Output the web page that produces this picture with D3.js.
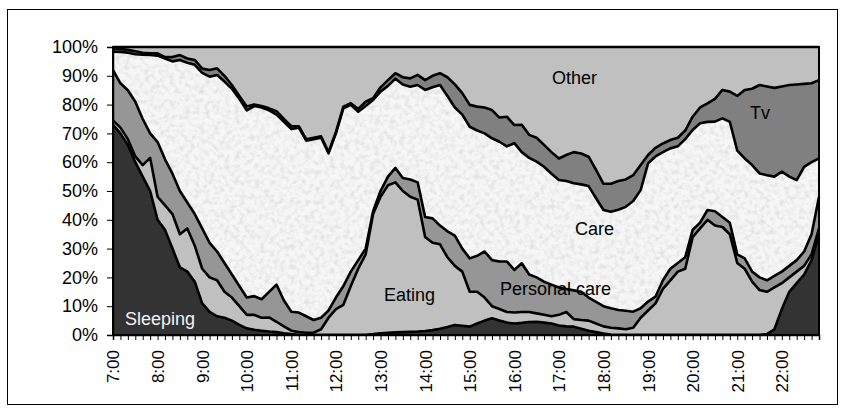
<!DOCTYPE html>
<html>
<head>
<meta charset="utf-8">
<script src="https://cdnjs.cloudflare.com/ajax/libs/d3/7.8.5/d3.min.js"></script>
<style>
  body { margin: 0; background: #fff; }
  svg { display: block; font-family: "Liberation Sans", Arial, sans-serif; }
</style>
</head>
<body>
<svg id="chart" width="846" height="413"></svg>
<script>
// 10-minute slots from 7:00 to 22:50
const times = d3.range(7 * 60, 23 * 60, 10).map(m => Math.floor(m / 60) + ":" + String(m % 60).padStart(2, "0"));
const hourLabels = ["7:00","8:00","9:00","10:00","11:00","12:00","13:00","14:00","15:00","16:00","17:00","18:00","19:00","20:00","21:00","22:00"];
const seriesNames = ["Sleeping", "Eating", "Personal care", "Care", "Tv", "Other"];

// share of people (%) per slot
const sleeping = [
  73,70,66,60,55,50,40,36.5,30,23.5,22,18.5,
  11,8,6.5,6,5,3.5,2.3,1.8,1.5,1.2,1,0.6,
  0.3,0.1,0.1,0.1,0.1,0.1,0.1,0.1,0.1,0.1,0.1,0.3,
  0.6,0.8,0.9,1.0,1.1,1.2,1.4,1.7,2.2,2.8,3.5,3.2,
  2.9,4.0,5.0,5.8,5.0,4.3,4.0,4.2,4.5,4.6,4.3,4.0,
  3.3,3.0,2.9,2.2,1.5,1.0,0.5,0.2,0.1,0.1,0.1,0.1,
  0.1,0.1,0.1,0.1,0.1,0.1,0.1,0.1,0.1,0.1,0.1,0.1,
  0.1,0.1,0.1,0.1,0.3,2,9,15,18,21,26,35
];
const eating = [
  1.5,2,2,2,4,11.5,8,8.5,12,11.5,15,12.5,
  12,12,12.5,9,8,6.5,4.7,5.2,4.5,4.9,3.6,2.4,
  1.2,0.9,0.7,0.7,1.9,5.9,8.9,10.4,16.9,22.9,27.9,41.7,
  47.4,51.2,52.1,49,46.9,45.8,32.6,30.3,29.3,24.2,20.5,18.8,
  12.1,11,8,4.2,4,3.7,3.8,3.8,3.5,2.9,2.7,2.5,
  3.7,5,2.6,3,3.5,3,2.5,2.3,2.2,1.9,2.4,5.9,
  8.4,10.9,15.9,18.9,21.9,22.9,33.9,36.9,39.9,37.9,37.4,34.9,
  24.9,22.9,18.4,15.5,14.7,14.5,9,5,4,3,2,2
];
const personalCare = [
  17.5,15.4,17,19,16,8.5,19,16,14,15,9,11,
  14,12,10,10,8,7,6,6.5,6.4,8.9,12.9,9,
  6.6,6.8,5.7,4.4,4,2.5,4,6.5,5,3,2,1,
  2,3,5,4.5,6,6,7,8.5,6.5,9,10.5,8,
  11.6,12.5,16,16,16.5,17.5,14.8,16.9,13,12.5,11.5,11,
  9.5,8,10,9.8,8,7.5,7,6.8,6.4,6.4,5.6,3.3,
  3.1,2.3,3,4,3,4,2.5,2,3.4,5,3.5,4,
  3,3.6,3.5,4.4,4,4,4,4,4,5,7,11
];
const care = [
  6.4,10.9,13,16.5,22.3,27.2,30,35,39,45.5,48.5,51.8,
  54,57.7,61.3,63,64.5,65,65,66,66.6,63,59,62,
  63.4,64.2,61,62.8,62.5,54.6,57,61.7,57.9,51.5,49.5,38.6,
  34.5,31.5,31,32.5,32.2,33.8,44.1,45.5,48.8,47,44.5,46.5,
  45.7,43.5,41,42.3,41.6,40,44,38.6,40.5,40.2,39.9,38.5,
  37.3,37.5,37.2,37.3,38.7,36,33.4,33.5,34.8,36.1,38.4,41,
  48,48.7,44.5,41.8,40.5,41,34.7,34.5,30.6,31.1,34.2,35,
  36,34.7,37,36.1,36.5,34.5,34.7,31,27.8,29.4,25,13.3
];
const tv = [
  1.1,1,1,1,0.7,0.6,0.8,0.5,1.5,1.7,1.5,1.7,
  1.5,2.3,2.3,2,1.3,1,1.3,0.5,0.5,0.7,1.2,1,
  1,0.5,0.5,0.5,0.5,0.4,0.5,0.6,0.6,1,1.5,0.6,
  1.5,2,1.9,2.5,2.9,3.5,3.4,4,4.1,6.5,8,7.5,
  7.6,8.3,9,9.8,8.4,10.3,6.3,9.5,8,8.3,7.6,7.5,
  7.5,9,10.8,10.7,10.2,9.8,9.1,9.7,10,9.5,9,8.7,
  2.9,3,3,2.9,3,3,4.6,5.5,6.4,7.9,9.9,10.5,
  19,23.8,26.5,30.7,30.8,30.8,29.6,31.8,33.2,28.8,27.4,27.2
];
const other = [
  0.5,0.7,1,1.5,2,2.2,2.2,3.5,3.5,2.8,4,4.5,
  7.5,8,7.4,10,13.2,17,20.7,20,20.5,21.3,22.3,25,
  27.5,27.5,32,31.5,31,36.5,29.5,20.7,19.5,21.5,19,17.8,
  14,11.5,9.1,10.5,10.9,9.7,11.5,10,9.1,10.5,13,16,
  20.1,20.7,21,21.9,24.5,24.2,27.1,27,30.5,31.5,34,36.5,
  38.7,37.5,36.5,37,38.1,42.7,47.5,47.5,46.5,46,44.5,41,
  37.5,35,33.5,32.3,31.5,29,24.2,21,19.6,18,14.9,15.5,
  17,14.9,14.5,13.2,13.7,14.2,13.7,13.2,13,12.8,12.6,11.5
];

const fills = { "Sleeping": "#333333", "Eating": "#c0c0c0", "Personal care": "#969696",
                "Care": "#f6f6f6", "Tv": "#808080", "Other": "#c0c0c0" };

const svg = d3.select("#chart");
const margin = { top: 47, right: 27, bottom: 78, left: 113 };
const width = 846, height = 413;

// outer chart border
svg.append("rect")
  .attr("x", 7.5).attr("y", 9.5)
  .attr("width", 830).attr("height", 395)
  .attr("fill", "#fff").attr("stroke", "#000").attr("stroke-width", 1);

// soft mottled texture for the Care area
const defs = svg.append("defs");
const noise = defs.append("filter").attr("id", "noise")
  .attr("x", 0).attr("y", 0).attr("width", "100%").attr("height", "100%");
noise.append("feTurbulence")
  .attr("type", "fractalNoise").attr("baseFrequency", 0.2)
  .attr("numOctaves", 2).attr("seed", 7);
noise.append("feColorMatrix").attr("type", "matrix")
  .attr("values", "0 0 0 0 0.62  0 0 0 0 0.62  0 0 0 0 0.62  1.3 0 0 0 -0.55");

const x = d3.scalePoint()
  .domain(times)
  .range([margin.left, width - margin.right]);

const y = d3.scaleLinear()
  .domain([0, 1])
  .range([height - margin.bottom, margin.top]);

const rows = times.map((t, i) => ({
  time: t,
  "Sleeping": sleeping[i],
  "Eating": eating[i],
  "Personal care": personalCare[i],
  "Care": care[i],
  "Tv": tv[i],
  "Other": other[i]
}));

const layers = d3.stack()
  .keys(seriesNames)
  .offset(d3.stackOffsetExpand)(rows);

const area = d3.area()
  .x(d => x(d.data.time))
  .y0(d => y(d[0]))
  .y1(d => y(d[1]));

const topLine = d3.line()
  .x(d => x(d.data.time))
  .y(d => y(d[1]));

const g = svg.append("g");

g.selectAll(".layer")
  .data(layers).enter()
  .append("path")
  .attr("class", "layer")
  .attr("d", area)
  .attr("fill", d => fills[d.key]);

// texture clipped to the Care layer
const careLayer = layers.find(l => l.key === "Care");
defs.append("clipPath").attr("id", "careClip")
  .append("path").attr("d", area(careLayer));
g.append("rect")
  .attr("x", margin.left).attr("y", margin.top)
  .attr("width", width - margin.left - margin.right)
  .attr("height", height - margin.top - margin.bottom)
  .attr("clip-path", "url(#careClip)")
  .attr("filter", "url(#noise)");

g.selectAll(".edge")
  .data(layers).enter()
  .append("path")
  .attr("class", "edge")
  .attr("d", topLine)
  .attr("fill", "none")
  .attr("stroke", "#000")
  .attr("stroke-width", 2.6)
  .attr("stroke-linejoin", "round");

// plot frame
svg.append("rect")
  .attr("x", margin.left).attr("y", margin.top)
  .attr("width", width - margin.left - margin.right)
  .attr("height", height - margin.top - margin.bottom)
  .attr("fill", "none").attr("stroke", "#000").attr("stroke-width", 2);

// y axis
const yAxis = svg.append("g")
  .attr("transform", "translate(" + margin.left + ",0)")
  .call(d3.axisLeft(y).ticks(10).tickFormat(d3.format(".0%")).tickSize(6).tickPadding(9));
yAxis.select(".domain").attr("stroke", "#000").attr("stroke-width", 1.5);
yAxis.selectAll(".tick line").attr("stroke", "#000");
yAxis.selectAll("text")
  .attr("fill", "#000")
  .style("font-size", "18px")
  .style("font-family", "'Liberation Sans', Arial, sans-serif");

// x axis
const xAxis = svg.append("g")
  .attr("transform", "translate(0," + (height - margin.bottom) + ")")
  .call(d3.axisBottom(x).tickSize(5).tickFormat(d => hourLabels.includes(d) ? d : ""));
xAxis.select(".domain").attr("stroke", "#000").attr("stroke-width", 1.5);
xAxis.selectAll(".tick line").attr("stroke", "#000");
xAxis.selectAll("text")
  .attr("transform", "rotate(-90)")
  .attr("x", -15)
  .attr("y", 0)
  .attr("dy", "0.35em")
  .attr("fill", "#000")
  .style("text-anchor", "end")
  .style("font-size", "17px")
  .style("font-family", "'Liberation Sans', Arial, sans-serif");

// series labels inside the areas
const labels = [
  { text: "Sleeping", x: 125, y: 325, color: "#f2f2f2" },
  { text: "Eating", x: 384, y: 301, color: "#000" },
  { text: "Personal care", x: 500, y: 295, color: "#000" },
  { text: "Care", x: 575, y: 235, color: "#000" },
  { text: "Other", x: 552, y: 84, color: "#000" },
  { text: "Tv", x: 750, y: 119, color: "#000" }
];
svg.selectAll(".series-label")
  .data(labels).enter()
  .append("text")
  .attr("class", "series-label")
  .attr("x", d => d.x)
  .attr("y", d => d.y)
  .attr("fill", d => d.color)
  .style("font-size", "18px")
  .text(d => d.text);
</script>
</body>
</html>
